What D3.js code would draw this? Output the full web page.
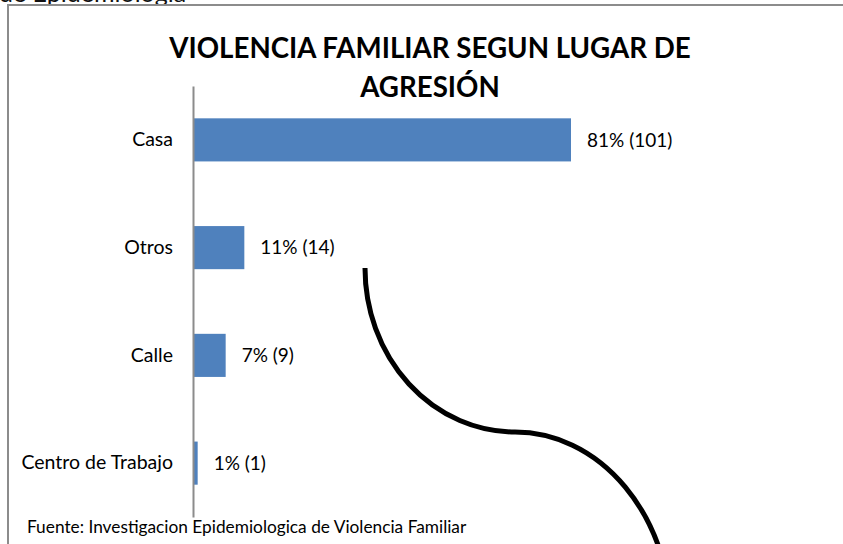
<!DOCTYPE html>
<html><head><meta charset="utf-8">
<script src="https://cdn.jsdelivr.net/npm/d3@7"></script>
<style>body{margin:0;background:#fff}svg{display:block}</style>
</head><body>
<svg id="c" width="843" height="544"></svg>
<script>
const categories = ["Casa", "Otros", "Calle", "Centro de Trabajo"];
const percents = [81, 11, 7, 1];
const counts = [101, 14, 9, 1];
const titleLines = ["VIOLENCIA FAMILIAR SEGUN LUGAR DE", "AGRESIÓN"];
const sourceNote = "Fuente: Investigacion Epidemiologica de Violencia Familiar";
const headerFragment = "de Epidemiologia";

const FONT = "Lato, 'Open Sans', sans-serif";
const svg = d3.select("#c");
svg.append("rect").attr("width", 843).attr("height", 544).attr("fill", "#fff");

// cut-off text above the frame
svg.append("text").attr("x", -1).attr("y", 2).attr("font-family", FONT)
  .attr("font-size", 25).attr("fill", "#111").text(headerFragment);

// frame (top + left)
svg.append("path").attr("d", "M8,544 V5 H843").attr("fill", "none")
  .attr("stroke", "#8c8c8c").attr("stroke-width", 2);

const data = categories.map((c, i) => ({cat: c, pct: percents[i], n: counts[i]}));

const y = d3.scaleBand().domain(categories).range([86, 517]).paddingInner(0.6).paddingOuter(0.3);
const x = d3.scaleLinear().domain([0, 90]).range([193, 613]);

// title
svg.append("g").selectAll("text").data(titleLines).join("text")
  .attr("x", 430).attr("y", (d, i) => 58 + i * 39)
  .attr("text-anchor", "middle").attr("font-family", FONT).attr("font-weight", "bold")
  .attr("font-size", 27.7).attr("fill", "#000").text(d => d);

// bars
svg.append("g").selectAll("rect").data(data).join("rect")
  .attr("x", x(0)).attr("y", d => y(d.cat))
  .attr("width", d => x(d.pct) - x(0)).attr("height", y.bandwidth())
  .attr("fill", "#4f81bd");

// value labels
svg.append("g").selectAll("text").data(data).join("text")
  .attr("x", d => x(d.pct) + 16).attr("y", d => y(d.cat) + y.bandwidth() / 2)
  .attr("dy", "0.35em").attr("font-family", FONT).attr("font-size", 19).attr("fill", "#000")
  .text(d => `${d.pct}% (${d.n})`);

// axis
const ax = svg.append("g").attr("transform", `translate(${x(0)},0)`)
  .call(d3.axisLeft(y).tickSize(0).tickPadding(20));
ax.select(".domain").attr("stroke", "#8c8c8c").attr("stroke-width", 2);
ax.selectAll("text").attr("font-family", FONT).attr("font-size", 19.5).attr("fill", "#000");

// source note
svg.append("text").attr("x", 27).attr("y", 533).attr("font-family", FONT)
  .attr("font-size", 17.3).attr("fill", "#000").text(sourceNote);

// hand-drawn S curve annotation
svg.append("path")
  .attr("d", "M365,268 A150,164 0 0 0 515,432 A156,188 0 0 1 671,620")
  .attr("fill", "none").attr("stroke", "#000").attr("stroke-width", 5);
</script>
</body></html>
